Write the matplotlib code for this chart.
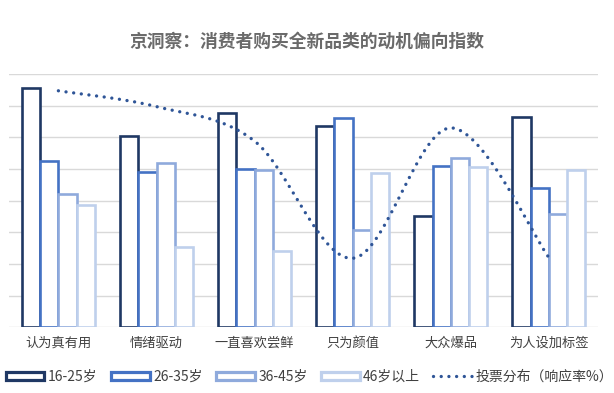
import numpy as np
import matplotlib.pyplot as plt

plt.rcParams['font.family'] = ['Noto Sans CJK SC', 'DejaVu Sans']

# data
categories = ['认为真有用', '情绪驱动', '一直喜欢尝鲜', '只为颜值', '大众爆品', '为人设加标签']
age_16_25 = [7.57, 6.03, 6.78, 6.36, 3.51, 6.64]
age_26_35 = [5.26, 4.89, 5.00, 6.60, 5.09, 4.41]
age_36_45 = [4.21, 5.20, 4.98, 3.09, 5.34, 3.57]
age_46_up = [3.85, 2.55, 2.41, 4.86, 5.07, 4.97]
vote_share = [7.47, 6.97, 5.88, 2.18, 6.30, 2.20]

series = [('16-25岁', age_16_25, '#1f3864'),
          ('26-35岁', age_26_35, '#4472c4'),
          ('36-45岁', age_36_45, '#8faadc'),
          ('46岁以上', age_46_up, '#bfd0ec')]


def smooth(xs, ys, n=30):
    # excel-like smoothed line (catmull-rom bezier through the points)
    pts = np.column_stack([xs, ys]).astype(float)
    pts = np.vstack([pts[0], pts, pts[-1]])
    out = []
    for i in range(1, len(pts) - 2):
        p0, p1, p2, p3 = pts[i - 1], pts[i], pts[i + 1], pts[i + 2]
        c1 = p1 + (p2 - p0) / 6
        c2 = p2 - (p3 - p1) / 6
        t = np.linspace(0, 1, n)[:, None]
        seg = (1 - t)**3 * p1 + 3 * (1 - t)**2 * t * c1 + 3 * (1 - t) * t**2 * c2 + t**3 * p2
        out.append(seg)
    out = np.vstack(out)
    return out[:, 0], out[:, 1]


fig = plt.figure(figsize=(6.14, 3.93), dpi=100)
ax = fig.add_axes([0.0152, 0.167, 0.9588, 0.6447])

x = np.arange(len(categories))
w = 0.186
for i, (name, vals, col) in enumerate(series):
    ax.bar(x + (i - 1.5) * w, vals, w, facecolor='white', edgecolor=col,
           linewidth=1.9, label=name, zorder=3 + i)

sx, sy = smooth(x, vote_share)
ax.plot(sx, sy, color='#2f5597', linewidth=2.4, linestyle=(0, (0.01, 2.3)),
        dash_capstyle='round', label='投票分布（响应率%）', zorder=10)

ax.set_xlim(-0.5, 5.5)
ax.set_ylim(0, 8)
ax.set_yticks(np.arange(0, 9, 1))
ax.set_yticklabels([])
ax.grid(axis='y', color='#d9d9d9', linewidth=1.0, zorder=0)
ax.tick_params(length=0)
for s in ax.spines.values():
    s.set_visible(False)
ax.set_xticks(x)
ax.set_xticklabels(categories, fontsize=9.5, color='#404040')
ax.tick_params(axis='x', pad=7)

fig.text(0.499, 0.893, '京洞察：消费者购买全新品类的动机偏向指数', ha='center', va='center',
         fontsize=12.8, color='#6a6a6a', fontweight='bold')

h, l = ax.get_legend_handles_labels()
order = [1, 2, 3, 4, 0]
leg = fig.legend([h[k] for k in order], [l[k] for k in order], loc='center left',
                 bbox_to_anchor=(0.0, 0.041), ncol=5, frameon=False,
                 fontsize=10, handlelength=2.8, handleheight=0.55, handletextpad=0.25,
                 columnspacing=0.95, labelcolor='#404040', borderaxespad=0)
for p in leg.get_patches():
    p.set_linewidth(2.3)

fig.savefig('out.png', dpi=100)
